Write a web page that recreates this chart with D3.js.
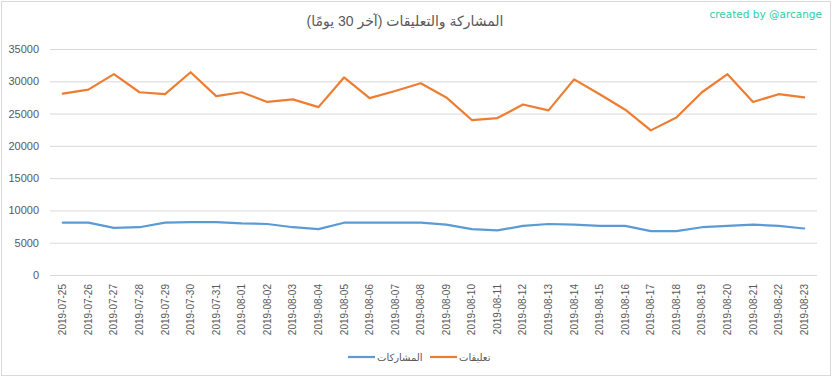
<!DOCTYPE html>
<html>
<head>
<meta charset="utf-8">
<script src="https://cdn.jsdelivr.net/npm/d3@7"></script>
<style>
  body { margin: 0; background: #fff; }
  text { font-family: "Liberation Sans", Arial, "DejaVu Sans", sans-serif; }
</style>
</head>
<body>
<div class="chart"></div>
<script>
(() => {
  const dates = [
    "2019-07-25", "2019-07-26", "2019-07-27", "2019-07-28", "2019-07-29", "2019-07-30",
    "2019-07-31", "2019-08-01", "2019-08-02", "2019-08-03", "2019-08-04", "2019-08-05",
    "2019-08-06", "2019-08-07", "2019-08-08", "2019-08-09", "2019-08-10", "2019-08-11",
    "2019-08-12", "2019-08-13", "2019-08-14", "2019-08-15", "2019-08-16", "2019-08-17",
    "2019-08-18", "2019-08-19", "2019-08-20", "2019-08-21", "2019-08-22", "2019-08-23"
  ];
  // المشاركات (posts)
  const posts = [
    8100, 8100, 7300, 7400, 8100, 8200, 8200, 8000, 7900, 7400, 7100, 8100,
    8100, 8100, 8100, 7800, 7100, 6900, 7600, 7900, 7800, 7600, 7600, 6800,
    6800, 7400, 7600, 7800, 7600, 7200
  ];
  // تعليقات (comments)
  const comments = [
    28100, 28700, 31100, 28300, 28000, 31400, 27700, 28300, 26800, 27200, 26000, 30600,
    27400, 28500, 29700, 27500, 24000, 24300, 26400, 25500, 30300, 28000, 25600, 22400,
    24400, 28300, 31100, 26800, 28000, 27500
  ];
  const yTicks = [0, 5000, 10000, 15000, 20000, 25000, 30000, 35000];

  const series = [
    { name: "المشاركات", values: posts, color: "#5B9BD5" },
    { name: "تعليقات", values: comments, color: "#ED7D31" }
  ];

  const width = 832, height = 378;
  const margin = { top: 49, right: 15, bottom: 103, left: 50 };

  const svg = d3.select(".chart").append("svg")
    .attr("width", width)
    .attr("height", height);

  svg.append("rect")
    .attr("x", 1.5).attr("y", 1.5)
    .attr("width", 829).attr("height", 374)
    .attr("fill", "#fff")
    .attr("stroke", "#D9D9D9");

  const x = d3.scaleBand()
    .domain(dates)
    .range([margin.left, width - margin.right]);

  const y = d3.scaleLinear()
    .domain([0, 35000])
    .range([height - margin.bottom, margin.top]);

  // gridlines + y labels
  const yAxis = svg.append("g")
    .attr("transform", `translate(${margin.left},0)`)
    .call(d3.axisLeft(y)
      .tickValues(yTicks)
      .tickFormat(d3.format("d"))
      .tickSize(-(width - margin.left - margin.right))
      .tickPadding(11));
  yAxis.select(".domain").remove();
  yAxis.selectAll(".tick line").attr("stroke", "#D9D9D9");
  yAxis.selectAll(".tick text")
    .attr("fill", "#595959")
    .style("font-size", "11px");

  // x labels
  const xAxis = svg.append("g")
    .attr("transform", `translate(0,${height - margin.bottom})`)
    .call(d3.axisBottom(x).tickSize(0));
  xAxis.select(".domain").remove();
  xAxis.selectAll(".tick text")
    .attr("fill", "#595959")
    .style("font-size", "10px")
    .attr("text-anchor", "end")
    .attr("transform", "rotate(-90)")
    .attr("x", -9)
    .attr("y", 0)
    .attr("dy", "0.35em");

  const line = d3.line()
    .x((d, i) => x(dates[i]) + x.bandwidth() / 2)
    .y(d => y(d));

  series.forEach(s => {
    svg.append("path")
      .datum(s.values)
      .attr("fill", "none")
      .attr("stroke", s.color)
      .attr("stroke-width", 2.2)
      .attr("stroke-linejoin", "round")
      .attr("stroke-linecap", "round")
      .attr("d", line);
  });

  // title
  svg.append("text")
    .attr("x", 405)
    .attr("y", 26)
    .attr("text-anchor", "middle")
    .attr("direction", "rtl")
    .attr("fill", "#595959")
    .style("font-size", "14px")
    .text("المشاركة والتعليقات (آخر 30 يومًا)");

  svg.append("text")
    .attr("x", 822)
    .attr("y", 18)
    .attr("text-anchor", "end")
    .attr("fill", "#33CCA6")
    .style("font-family", "'DejaVu Sans', Verdana, sans-serif")
    .style("font-size", "10.5px")
    .text("created by @arcange");

  // legend
  const legendItems = [
    { s: series[0], x: 348 },
    { s: series[1], x: 430 }
  ];
  legendItems.forEach(({ s, x: lx }) => {
    const g = svg.append("g").attr("transform", `translate(${lx},357)`);
    g.append("line")
      .attr("x1", 0).attr("x2", 27)
      .attr("y1", 0).attr("y2", 0)
      .attr("stroke", s.color)
      .attr("stroke-width", 2.2);
    g.append("text")
      .attr("x", 29)
      .attr("y", 0)
      .attr("dy", "0.35em")
      .attr("fill", "#595959")
      .style("font-size", "10px")
      .text(s.name);
  });
})();
</script>
</body>
</html>
